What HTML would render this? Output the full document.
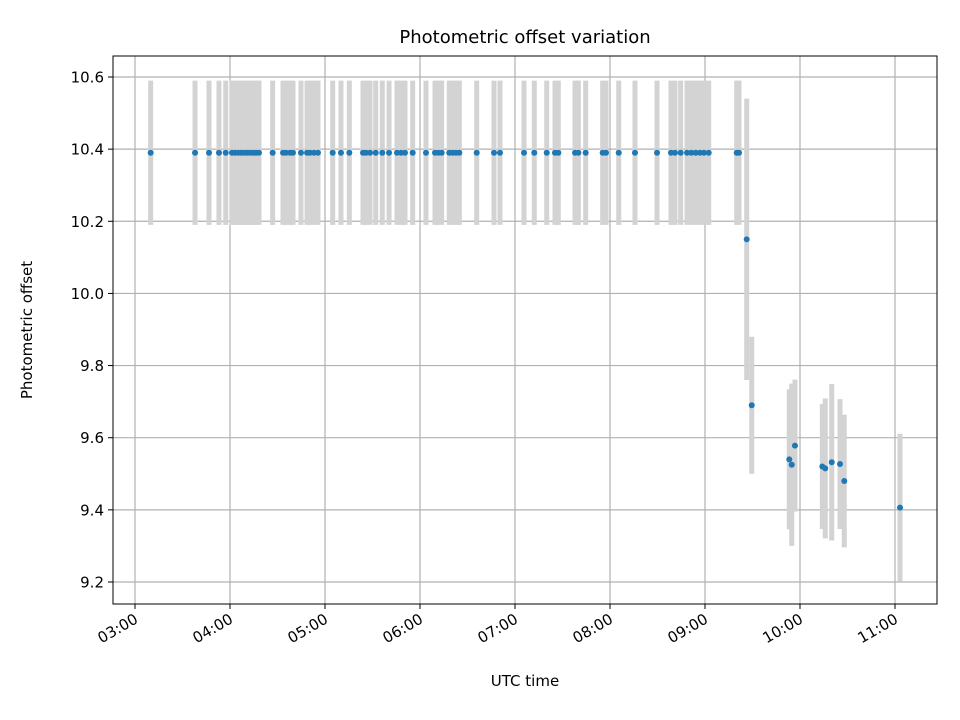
<!DOCTYPE html>
<html><head><meta charset="utf-8"><style>body{margin:0;background:#fff}svg{display:block;font-family:"DejaVu Sans","Liberation Sans",sans-serif}</style></head>
<body>
<svg id="chart" width="960" height="720" viewBox="0 0 960 720"></svg>
<script>
const flatTimes = [3.165,3.632,3.779,3.884,3.955,4.021,4.053,4.084,4.116,4.147,4.179,4.211,4.242,4.274,4.305,4.449,4.558,4.589,4.632,4.663,4.747,4.811,4.842,4.884,4.926,5.081,5.168,5.256,5.40,5.432,5.474,5.534,5.603,5.674,5.758,5.80,5.842,5.923,6.063,6.158,6.193,6.228,6.308,6.344,6.379,6.414,6.597,6.779,6.842,7.095,7.203,7.334,7.421,7.456,7.632,7.667,7.744,7.923,7.958,8.092,8.263,8.495,8.642,8.684,8.744,8.811,8.856,8.902,8.947,8.989,9.039,9.334,9.358];
const flatValue = 10.39;
const flatError = 0.2;
const tailTimes = [9.439,9.492,9.887,9.913,9.947,10.235,10.266,10.334,10.421,10.466,11.053];
const tailValues = [10.15,9.69,9.54,9.525,9.578,9.52,9.515,9.532,9.527,9.48,9.406];
const tailErrors = [0.39,0.19,0.194,0.225,0.183,0.173,0.194,0.217,0.18,0.184,0.205];
const yTicks = [9.2,9.4,9.6,9.8,10.0,10.2,10.4,10.6];
const yTickLabels = ["9.2","9.4","9.6","9.8","10.0","10.2","10.4","10.6"];
const xTicks = [3,4,5,6,7,8,9,10,11];
const xTickLabels = ["03:00","04:00","05:00","06:00","07:00","08:00","09:00","10:00","11:00"];

const svg = document.getElementById('chart');
const NS = 'http://www.w3.org/2000/svg';
const L=113,R=937,T=56,B=604;
function xs(h){return 135+(h-3)*95;}
function ys(v){return 77+(10.6-v)*360.7;}
function mk(tag,attrs,parent){const e=document.createElementNS(NS,tag);for(const k in attrs)e.setAttribute(k,attrs[k]);(parent||svg).appendChild(e);return e;}

const grid = mk('g',{});


xTicks.forEach(t=>{const l=mk('line',{x1:xs(t),x2:xs(t),y1:T,y2:B,stroke:'#b0b0b0','stroke-width':1.2},grid);

});
yTicks.forEach(t=>{const l=mk('line',{x1:L,x2:R,y1:ys(t),y2:ys(t),stroke:'#b0b0b0','stroke-width':1.2},grid);

});

const eb = mk('g',{});


const allT = flatTimes.concat(tailTimes);
const allV = flatTimes.map(()=>flatValue).concat(tailValues);
const allE = flatTimes.map(()=>flatError).concat(tailErrors);
allT.forEach((t,i)=>{const l=mk('line',{x1:xs(t),x2:xs(t),y1:ys(allV[i]+allE[i]),y2:ys(allV[i]-allE[i]),stroke:'#d3d3d3','stroke-width':5},eb);

});
const pts = mk('g',{});


allT.forEach((t,i)=>{const c=mk('circle',{cx:xs(t),cy:ys(allV[i]),r:3,fill:'#1f77b4'},pts);

});

const frame=mk('rect',{x:L,y:T,width:R-L,height:B-T,fill:'none',stroke:'#000','stroke-width':1});



const xa = mk('g',{});


xTicks.forEach((t,i)=>{mk('line',{x1:xs(t),x2:xs(t),y1:B,y2:B+5,stroke:'#000'},xa);
const tx=mk('text',{x:xs(t)+4,y:B+18,'font-size':15,'text-anchor':'end',transform:`rotate(-30 ${xs(t)+4} ${B+18})`},xa);
tx.textContent=xTickLabels[i];

});
const ya = mk('g',{});


yTicks.forEach((t,i)=>{mk('line',{x1:L-5,x2:L,y1:ys(t),y2:ys(t),stroke:'#000'},ya);
const tx=mk('text',{x:L-9,y:ys(t)+5.5,'font-size':15,'text-anchor':'end'},ya);
tx.textContent=yTickLabels[i];

});

const title=mk('text',{x:525,y:43,'font-size':18,'text-anchor':'middle'});
title.textContent='Photometric offset variation';


const xt=mk('text',{x:525,y:686,'font-size':15,'text-anchor':'middle'});
xt.textContent='UTC time';


const yt=mk('text',{x:32,y:330,'font-size':15,'text-anchor':'middle',transform:'rotate(-90 32 330)'});
yt.textContent='Photometric offset';


</script>
</body></html>
